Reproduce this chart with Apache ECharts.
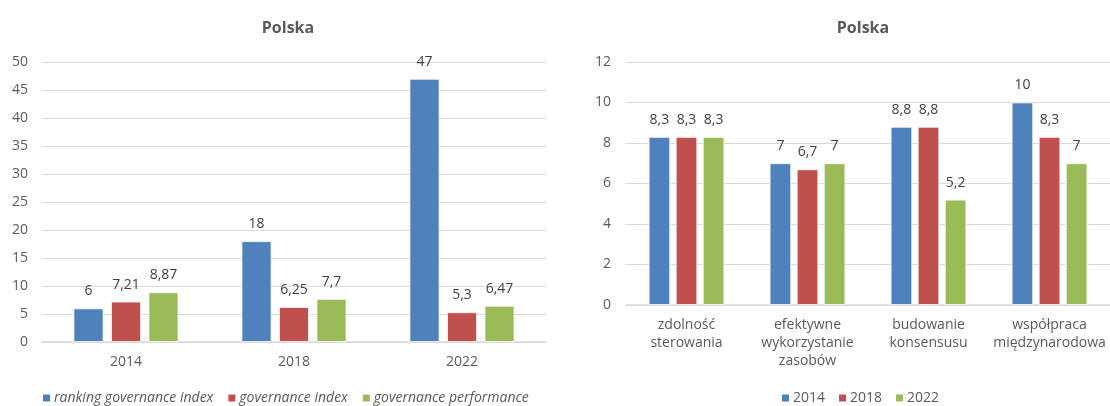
<!DOCTYPE html>
<html>
<head>
<meta charset="utf-8">
<script src="https://cdn.jsdelivr.net/npm/echarts@6/dist/echarts.min.js"></script>
<style>
html,body{margin:0;padding:0;background:#fff;}
#c{width:1110px;height:406px;}
</style>
</head>
<body>
<div id="c"></div>
<script>
// Left chart data
const leftYears = ['2014', '2018', '2022'];
const leftSeriesNames = ['ranking governance index', 'governance index', 'governance performance'];
const rankingIndex = [6, 18, 47];
const governanceIndex = [7.21, 6.25, 5.3];
const governancePerformance = [8.87, 7.7, 6.47];

// Right chart data
const rightCategories = ['zdolność\nsterowania', 'efektywne\nwykorzystanie\nzasobów', 'budowanie\nkonsensusu', 'współpraca\nmiędzynarodowa'];
const rightSeriesNames = ['2014', '2018', '2022'];
const y2014 = [8.3, 7, 8.8, 10];
const y2018 = [8.3, 6.7, 8.8, 8.3];
const y2022 = [8.3, 7, 5.2, 7];

const colors = ['#4F81BD', '#C0504D', '#9BBB59'];
const font = '"Open Sans", "Noto Sans", sans-serif';
const fmt = p => String(p.value).replace('.', ',');

const chart = echarts.init(document.getElementById('c'), null, {renderer: 'canvas'});

function barSeries(name, data, idx, xi, bw, gap) {
  return {
    name: name, type: 'bar', data: data,
    xAxisIndex: xi, yAxisIndex: xi,
    barWidth: bw, barGap: gap,
    itemStyle: {color: colors[idx], borderColor: '#ffffff', borderWidth: 0.8},
    label: {show: true, position: 'top', distance: 10, formatter: fmt,
      color: '#404040', fontSize: 14, fontFamily: font},
    emphasis: {disabled: true}
  };
}

const axisLabelStyle = {color: '#595959', fontSize: 14, fontFamily: font};

chart.setOption({
  animation: false,
  color: colors,
  title: [
    {text: 'Polska', left: 283, top: 15, textAlign: 'center',
      textStyle: {fontSize: 16, fontWeight: 'bold', color: '#595959', fontFamily: font}},
    {text: 'Polska', left: 858, top: 15, textAlign: 'center',
      textStyle: {fontSize: 16, fontWeight: 'bold', color: '#595959', fontFamily: font}}
  ],
  legend: [
    {data: leftSeriesNames, left: 36, top: 386, itemWidth: 9, itemHeight: 9, itemGap: 13,
      icon: 'rect', textStyle: {color: '#595959', fontSize: 14, fontStyle: 'italic', fontFamily: font, padding: [0,0,0,-2]}},
    {data: rightSeriesNames, left: 775, top: 386, itemWidth: 9, itemHeight: 9, itemGap: 12,
      icon: 'rect', textStyle: {color: '#595959', fontSize: 14, fontFamily: font, padding: [0,0,0,-2]}}
  ],
  grid: [
    {left: 42, top: 62, width: 504, height: 280},
    {left: 626, top: 62, width: 486, height: 243}
  ],
  xAxis: [
    {type: 'category', gridIndex: 0, data: leftYears,
      axisLine: {lineStyle: {color: '#d9d9d9', width: 1.5}}, axisTick: {show: false},
      axisLabel: Object.assign({margin: 13}, axisLabelStyle)},
    {type: 'category', gridIndex: 1, data: rightCategories,
      axisLine: {lineStyle: {color: '#d9d9d9', width: 1.5}}, axisTick: {show: false},
      axisLabel: Object.assign({margin: 11, lineHeight: 18, interval: 0}, axisLabelStyle)}
  ],
  yAxis: [
    {type: 'value', gridIndex: 0, min: 0, max: 50, interval: 5,
      axisLine: {show: false}, axisTick: {show: false},
      splitLine: {lineStyle: {color: '#d9d9d9', width: 1}},
      axisLabel: Object.assign({margin: 14}, axisLabelStyle)},
    {type: 'value', gridIndex: 1, min: 0, max: 12, interval: 2,
      axisLine: {show: false}, axisTick: {show: false},
      splitLine: {lineStyle: {color: '#d9d9d9', width: 1}},
      axisLabel: Object.assign({margin: 15}, axisLabelStyle)}
  ],
  series: [
    barSeries(leftSeriesNames[0], rankingIndex, 0, 0, 30, '25%'),
    barSeries(leftSeriesNames[1], governanceIndex, 1, 0, 30, '25%'),
    barSeries(leftSeriesNames[2], governancePerformance, 2, 0, 30, '25%'),
    barSeries(rightSeriesNames[0], y2014, 0, 1, 21.5, '26%'),
    barSeries(rightSeriesNames[1], y2018, 1, 1, 21.5, '26%'),
    barSeries(rightSeriesNames[2], y2022, 2, 1, 21.5, '26%')
  ]
});
</script>
</body>
</html>
